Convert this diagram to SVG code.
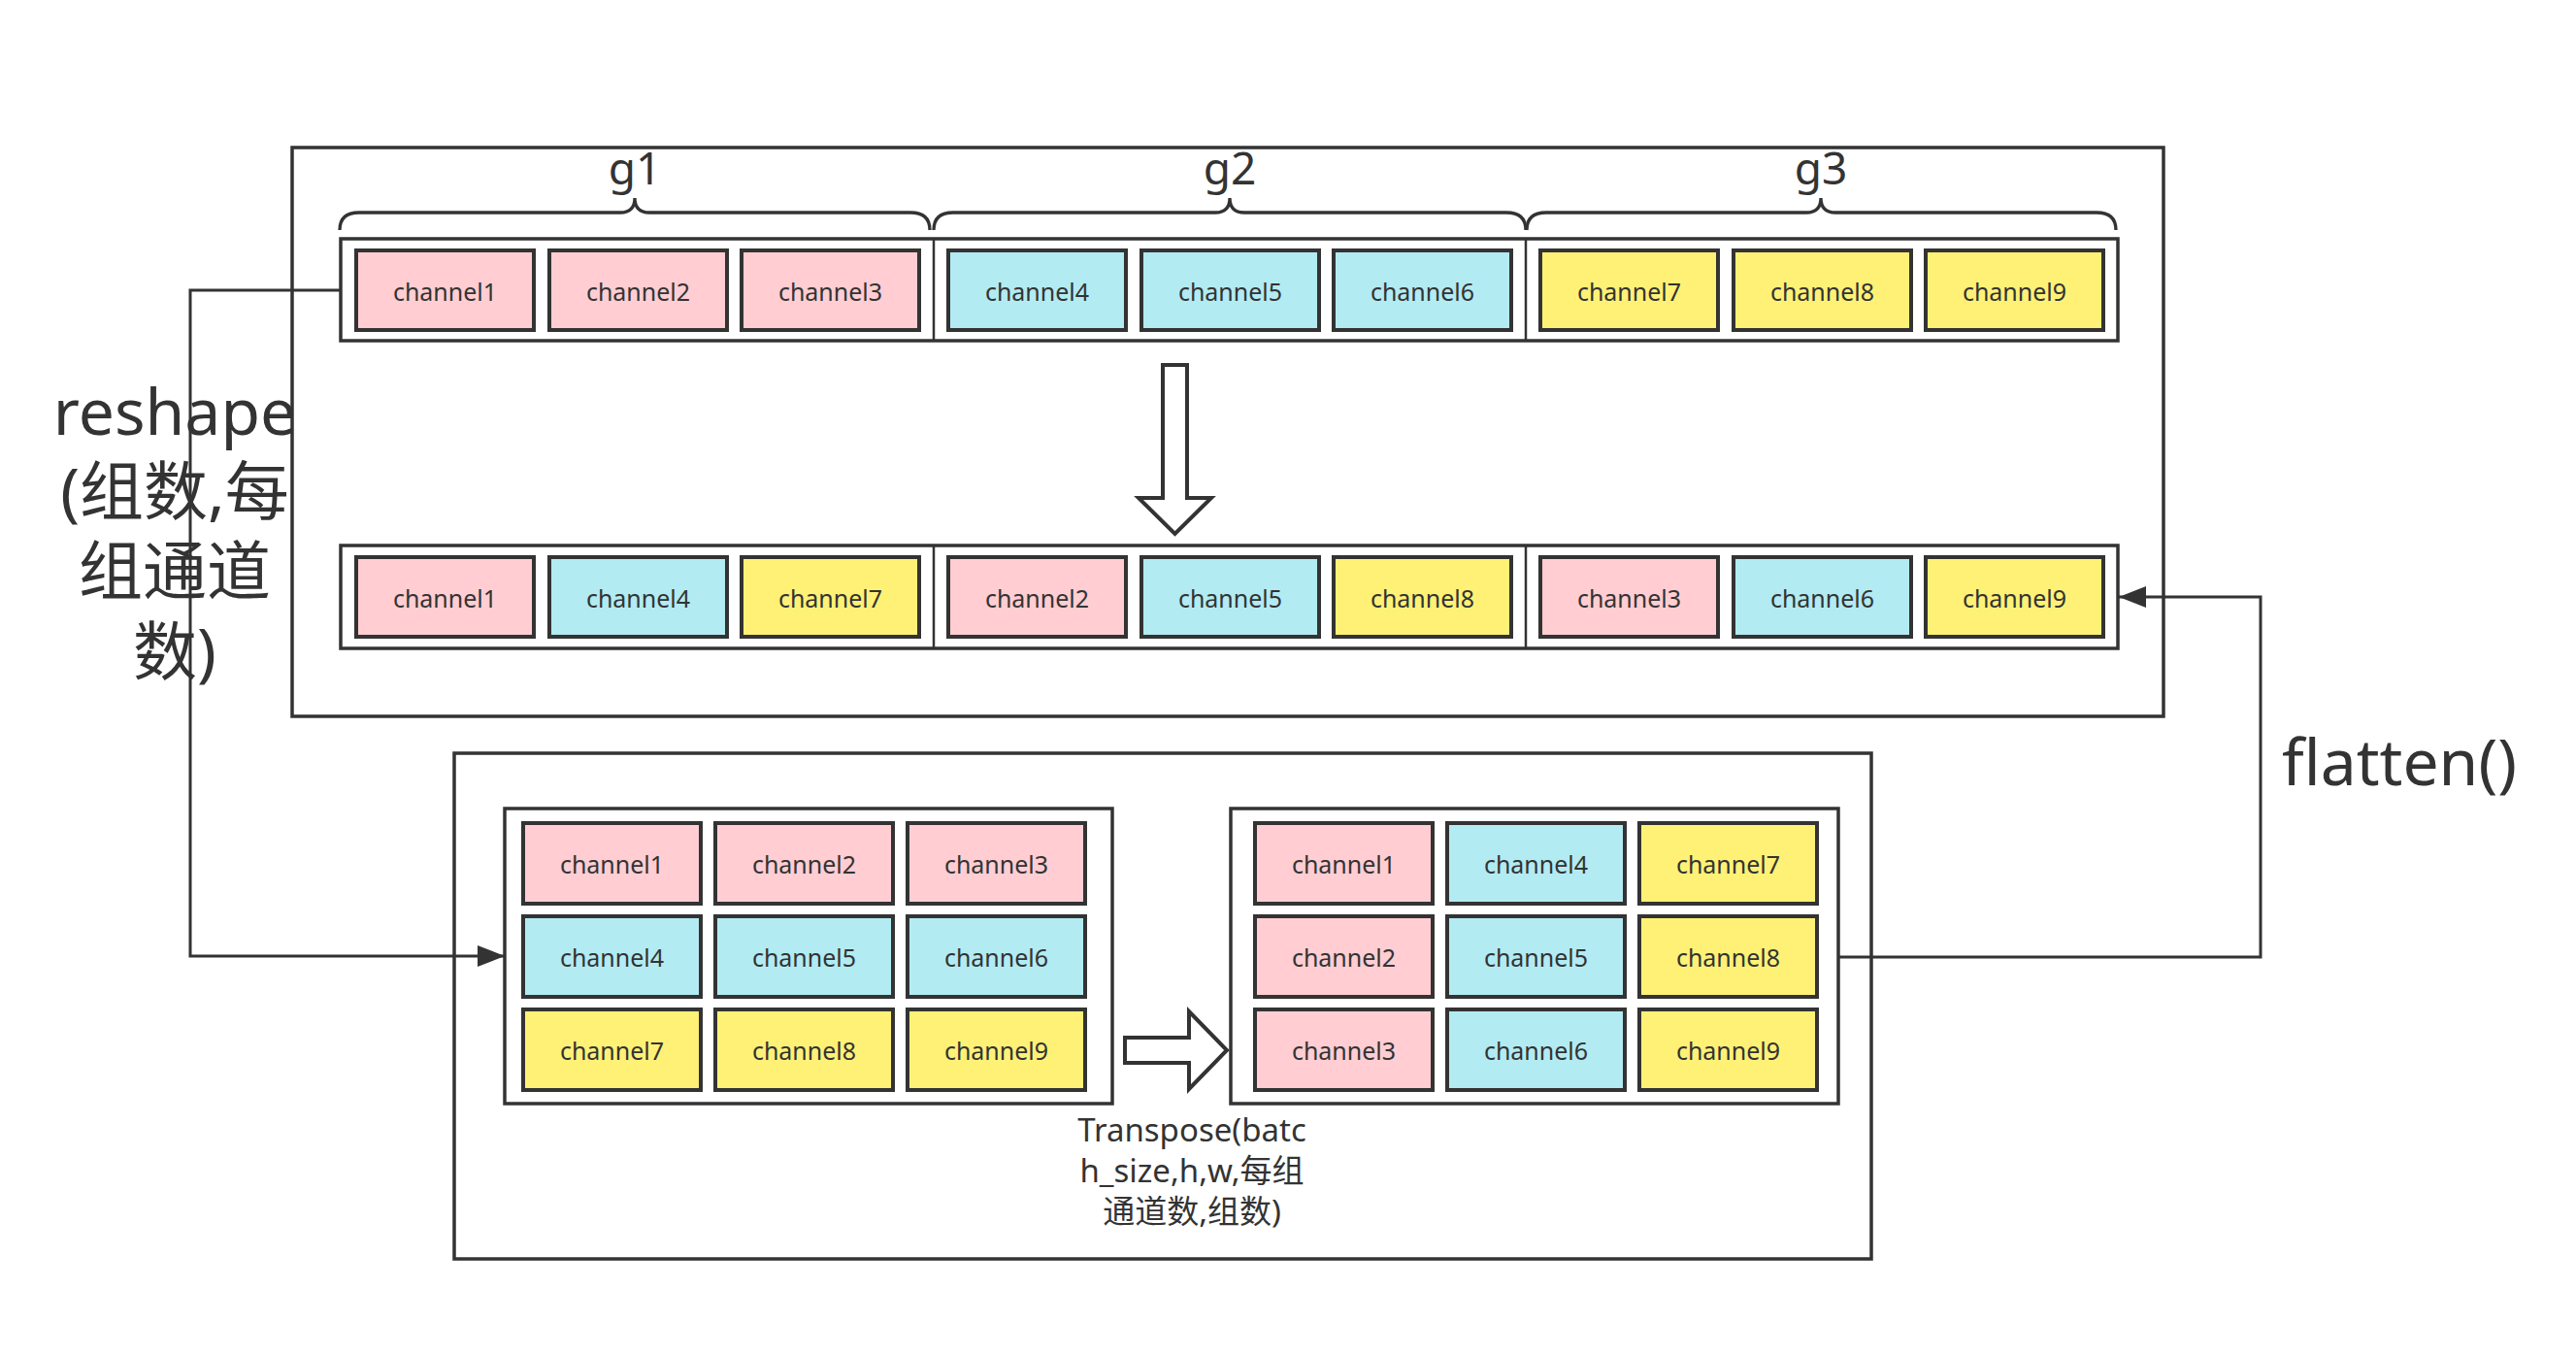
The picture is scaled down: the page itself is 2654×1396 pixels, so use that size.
<svg xmlns="http://www.w3.org/2000/svg" width="2654" height="1396" viewBox="0 0 2654 1396">
<style>
.frame{fill:#ffffff;stroke:#333333;stroke-width:3.5}
.cont{fill:#ffffff;stroke:#333333;stroke-width:3.5}
.div{stroke:#333333;stroke-width:2.5}
.cell{stroke:#333333;stroke-width:4}
.p{fill:#FFCDD2}
.b{fill:#B2EBF2}
.y{fill:#FFF176}
.ct{font-family:"Noto Sans","Noto Sans CJK SC",sans-serif;font-size:25px;fill:#333333;text-anchor:middle}
.lbl{font-family:"Noto Sans","Noto Sans CJK SC",sans-serif;fill:#333333;text-anchor:middle}
.brace{fill:none;stroke:#333333;stroke-width:3.3}
.conn{fill:none;stroke:#333333;stroke-width:3}
.hollow{fill:#ffffff;stroke:#333333;stroke-width:4;stroke-linejoin:miter}
</style>
<defs>
<marker id="arr" markerUnits="userSpaceOnUse" markerWidth="30" markerHeight="24" refX="28" refY="11" orient="auto">
<path d="M0,0 L28,11 L0,22 Z" fill="#333333"/>
</marker>
</defs>

<g id="top-frame">
<rect class="frame" x="301" y="152" width="1928" height="586"/>
</g>

<g id="braces">
<path class="brace" d="M350,237 Q350,219 370,219 L639,219 Q654,219 654,204 Q654,219 669,219 L938,219 Q958,219 958,237"/>
<text class="lbl" x="654" y="190" font-size="46">g1</text>
<path class="brace" d="M962,237 Q962,219 982,219 L1252,219 Q1267,219 1267,204 Q1267,219 1282,219 L1552,219 Q1572,219 1572,237"/>
<text class="lbl" x="1267" y="190" font-size="46">g2</text>
<path class="brace" d="M1573,237 Q1573,219 1593,219 L1861,219 Q1876,219 1876,204 Q1876,219 1891,219 L2160,219 Q2180,219 2180,237"/>
<text class="lbl" x="1876" y="190" font-size="46">g3</text>
</g>

<g id="row1">
<rect class="cont" x="351" y="246" width="1831" height="105"/>
<line class="div" x1="962" y1="246" x2="962" y2="351"/>
<line class="div" x1="1572" y1="246" x2="1572" y2="351"/>
<g id="r1c1"><rect class="cell p" x="367" y="258" width="183" height="82"/><text class="ct" x="458.5" y="310">channel1</text></g>
<g id="r1c2"><rect class="cell p" x="566" y="258" width="183" height="82"/><text class="ct" x="657.5" y="310">channel2</text></g>
<g id="r1c3"><rect class="cell p" x="764" y="258" width="183" height="82"/><text class="ct" x="855.5" y="310">channel3</text></g>
<g id="r1c4"><rect class="cell b" x="977" y="258" width="183" height="82"/><text class="ct" x="1068.5" y="310">channel4</text></g>
<g id="r1c5"><rect class="cell b" x="1176" y="258" width="183" height="82"/><text class="ct" x="1267.5" y="310">channel5</text></g>
<g id="r1c6"><rect class="cell b" x="1374" y="258" width="183" height="82"/><text class="ct" x="1465.5" y="310">channel6</text></g>
<g id="r1c7"><rect class="cell y" x="1587" y="258" width="183" height="82"/><text class="ct" x="1678.5" y="310">channel7</text></g>
<g id="r1c8"><rect class="cell y" x="1786" y="258" width="183" height="82"/><text class="ct" x="1877.5" y="310">channel8</text></g>
<g id="r1c9"><rect class="cell y" x="1984" y="258" width="183" height="82"/><text class="ct" x="2075.5" y="310">channel9</text></g>
</g>

<g id="down-arrow">
<polygon class="hollow" points="1198,376 1223,376 1223,513 1248,513 1210.5,550 1173,513 1198,513"/>
</g>

<g id="row2">
<rect class="cont" x="351" y="562" width="1831" height="106"/>
<line class="div" x1="962" y1="562" x2="962" y2="668"/>
<line class="div" x1="1572" y1="562" x2="1572" y2="668"/>
<g id="r2c1"><rect class="cell p" x="367" y="574" width="183" height="82"/><text class="ct" x="458.5" y="626">channel1</text></g>
<g id="r2c2"><rect class="cell b" x="566" y="574" width="183" height="82"/><text class="ct" x="657.5" y="626">channel4</text></g>
<g id="r2c3"><rect class="cell y" x="764" y="574" width="183" height="82"/><text class="ct" x="855.5" y="626">channel7</text></g>
<g id="r2c4"><rect class="cell p" x="977" y="574" width="183" height="82"/><text class="ct" x="1068.5" y="626">channel2</text></g>
<g id="r2c5"><rect class="cell b" x="1176" y="574" width="183" height="82"/><text class="ct" x="1267.5" y="626">channel5</text></g>
<g id="r2c6"><rect class="cell y" x="1374" y="574" width="183" height="82"/><text class="ct" x="1465.5" y="626">channel8</text></g>
<g id="r2c7"><rect class="cell p" x="1587" y="574" width="183" height="82"/><text class="ct" x="1678.5" y="626">channel3</text></g>
<g id="r2c8"><rect class="cell b" x="1786" y="574" width="183" height="82"/><text class="ct" x="1877.5" y="626">channel6</text></g>
<g id="r2c9"><rect class="cell y" x="1984" y="574" width="183" height="82"/><text class="ct" x="2075.5" y="626">channel9</text></g>
</g>

<g id="bottom-frame">
<rect class="frame" x="468" y="776" width="1460" height="521"/>
</g>

<g id="matrix-left">
<rect class="cont" x="520" y="833" width="626" height="304"/>
<g id="ml11"><rect class="cell p" x="539" y="848" width="183" height="83"/><text class="ct" x="630.5" y="900">channel1</text></g>
<g id="ml12"><rect class="cell p" x="737" y="848" width="183" height="83"/><text class="ct" x="828.5" y="900">channel2</text></g>
<g id="ml13"><rect class="cell p" x="935" y="848" width="183" height="83"/><text class="ct" x="1026.5" y="900">channel3</text></g>
<g id="ml21"><rect class="cell b" x="539" y="944" width="183" height="83"/><text class="ct" x="630.5" y="996">channel4</text></g>
<g id="ml22"><rect class="cell b" x="737" y="944" width="183" height="83"/><text class="ct" x="828.5" y="996">channel5</text></g>
<g id="ml23"><rect class="cell b" x="935" y="944" width="183" height="83"/><text class="ct" x="1026.5" y="996">channel6</text></g>
<g id="ml31"><rect class="cell y" x="539" y="1040" width="183" height="83"/><text class="ct" x="630.5" y="1092">channel7</text></g>
<g id="ml32"><rect class="cell y" x="737" y="1040" width="183" height="83"/><text class="ct" x="828.5" y="1092">channel8</text></g>
<g id="ml33"><rect class="cell y" x="935" y="1040" width="183" height="83"/><text class="ct" x="1026.5" y="1092">channel9</text></g>
</g>

<g id="right-arrow">
<polygon class="hollow" points="1159,1069 1225,1069 1225,1042 1264,1082 1225,1122 1225,1095 1159,1095"/>
</g>

<g id="matrix-right">
<rect class="cont" x="1268" y="833" width="626" height="304"/>
<g id="mr11"><rect class="cell p" x="1293" y="848" width="183" height="83"/><text class="ct" x="1384.5" y="900">channel1</text></g>
<g id="mr12"><rect class="cell b" x="1491" y="848" width="183" height="83"/><text class="ct" x="1582.5" y="900">channel4</text></g>
<g id="mr13"><rect class="cell y" x="1689" y="848" width="183" height="83"/><text class="ct" x="1780.5" y="900">channel7</text></g>
<g id="mr21"><rect class="cell p" x="1293" y="944" width="183" height="83"/><text class="ct" x="1384.5" y="996">channel2</text></g>
<g id="mr22"><rect class="cell b" x="1491" y="944" width="183" height="83"/><text class="ct" x="1582.5" y="996">channel5</text></g>
<g id="mr23"><rect class="cell y" x="1689" y="944" width="183" height="83"/><text class="ct" x="1780.5" y="996">channel8</text></g>
<g id="mr31"><rect class="cell p" x="1293" y="1040" width="183" height="83"/><text class="ct" x="1384.5" y="1092">channel3</text></g>
<g id="mr32"><rect class="cell b" x="1491" y="1040" width="183" height="83"/><text class="ct" x="1582.5" y="1092">channel6</text></g>
<g id="mr33"><rect class="cell y" x="1689" y="1040" width="183" height="83"/><text class="ct" x="1780.5" y="1092">channel9</text></g>
</g>

<g id="connectors">
<path class="conn" d="M351,299 H196 V985 H520" marker-end="url(#arr)"/>
<path class="conn" d="M1894,986 H2329 V615 H2183" marker-end="url(#arr)"/>
</g>

<g id="labels">
<text class="lbl" font-size="66"><tspan x="180" y="448">reshape</tspan><tspan x="180" y="530">(组数,每</tspan><tspan x="180" y="612">组通道</tspan><tspan x="180" y="695">数)</tspan></text>
<text class="lbl" font-size="66" x="2472" y="809">flatten()</text>
<text class="lbl" font-size="33"><tspan x="1228" y="1176">Transpose(batc</tspan><tspan x="1228" y="1218">h_size,h,w,每组</tspan><tspan x="1228" y="1260">通道数,组数)</tspan></text>
</g>
</svg>
